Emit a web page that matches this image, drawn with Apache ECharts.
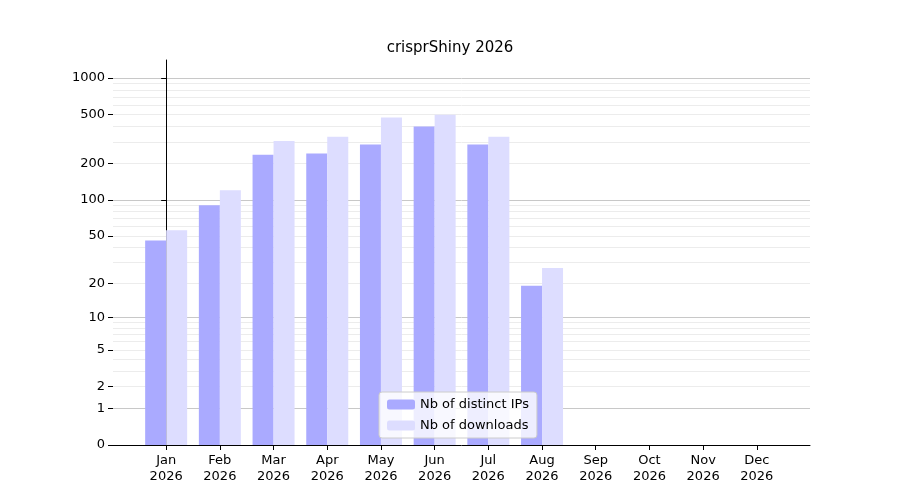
<!DOCTYPE html>
<html><head><meta charset="utf-8">
<script src="https://cdn.jsdelivr.net/npm/echarts@6/dist/echarts.min.js"></script>
<style>body{margin:0}#c{width:900px;height:500px}</style>
</head><body><div id="c"></div>
<script>
var months = ['Jan','Feb','Mar','Apr','May','Jun','Jul','Aug','Sep','Oct','Nov','Dec'];
var year = '2026';
var ips = [46, 90, 235, 240, 285, 400, 285, 19, 0, 0, 0, 0];
var downloads = [56, 120, 305, 330, 475, 500, 330, 27, 0, 0, 0, 0];
var yTicks = [0, 1, 2, 5, 10, 20, 50, 100, 200, 500, 1000];
var majorLines = [1, 10, 100, 1000];

function t(v) { return Math.log10(1 + v); }
var minorLines = [];
[1, 10, 100].forEach(function (d) { for (var k = 2; k <= 9; k++) minorLines.push(d * k); });

function pts(arr) {
  var out = [];
  arr.forEach(function (v, i) { if (v > 0) out.push([i, t(v)]); });
  return out;
}

var chart = echarts.init(document.getElementById('c'));
var font = 'DejaVu Sans';
var yBase = { type: 'value', min: 0, max: 3.147 };
chart.setOption({
  animation: false,
  textStyle: { fontFamily: font },
  title: { text: 'crisprShiny ' + year, left: 'center', top: 36,
    textStyle: { fontFamily: font, fontWeight: 'normal', fontSize: 15, color: '#000' } },
  grid: { left: 113, right: 90, top: 60, bottom: 55 },
  legend: {
    left: 379, top: 392, orient: 'vertical', itemWidth: 28, itemHeight: 10, itemGap: 8,
    borderColor: '#ccc', borderWidth: 1, borderRadius: 3, padding: [6, 8],
    backgroundColor: 'rgba(255,255,255,0.8)',
    textStyle: { fontFamily: font, fontSize: 13, color: '#000' }
  },
  xAxis: {
    type: 'value', min: -0.99, max: 11.99,
    splitLine: { show: false },
    axisLine: { lineStyle: { color: '#000' } },
    axisTick: { customValues: months.map(function (m, i) { return i; }), lineStyle: { color: '#000' } },
    axisLabel: { customValues: months.map(function (m, i) { return i; }), color: '#000', fontSize: 13, lineHeight: 16,
      formatter: function (v) { return months[Math.round(v)] + '\n' + year; } }
  },
  yAxis: [
    Object.assign({}, yBase, {
      axisLine: { show: true, lineStyle: { color: '#000' } },
      axisTick: { show: true, customValues: majorLines.map(t), lineStyle: { color: '#000' } },
      splitLine: { show: true, lineStyle: { color: '#c8c8c8' } },
      axisLabel: { show: false }
    }),
    Object.assign({}, yBase, {
      position: 'left',
      axisLine: { show: false },
      axisTick: { show: true, customValues: minorLines.map(t), length: 0 },
      splitLine: { show: true, lineStyle: { color: '#ececec' } },
      axisLabel: { show: false }
    }),
    Object.assign({}, yBase, {
      position: 'left',
      axisLine: { show: false },
      axisTick: { show: true, customValues: yTicks.map(t), lineStyle: { color: '#000' } },
      splitLine: { show: false },
      axisLabel: { customValues: yTicks.map(t), color: '#000', fontSize: 13,
        formatter: function (v) { return String(Math.round(Math.pow(10, v) - 1)); } }
    })
  ],
  series: [
    { name: 'Nb of distinct IPs', type: 'bar', yAxisIndex: 0, barWidth: 21, barGap: '0%',
      itemStyle: { color: '#aaaaff' }, data: pts(ips) },
    { name: 'Nb of downloads', type: 'bar', yAxisIndex: 0, barWidth: 21, barGap: '0%',
      itemStyle: { color: '#ddddff' }, data: pts(downloads) }
  ]
});
</script></body></html>
